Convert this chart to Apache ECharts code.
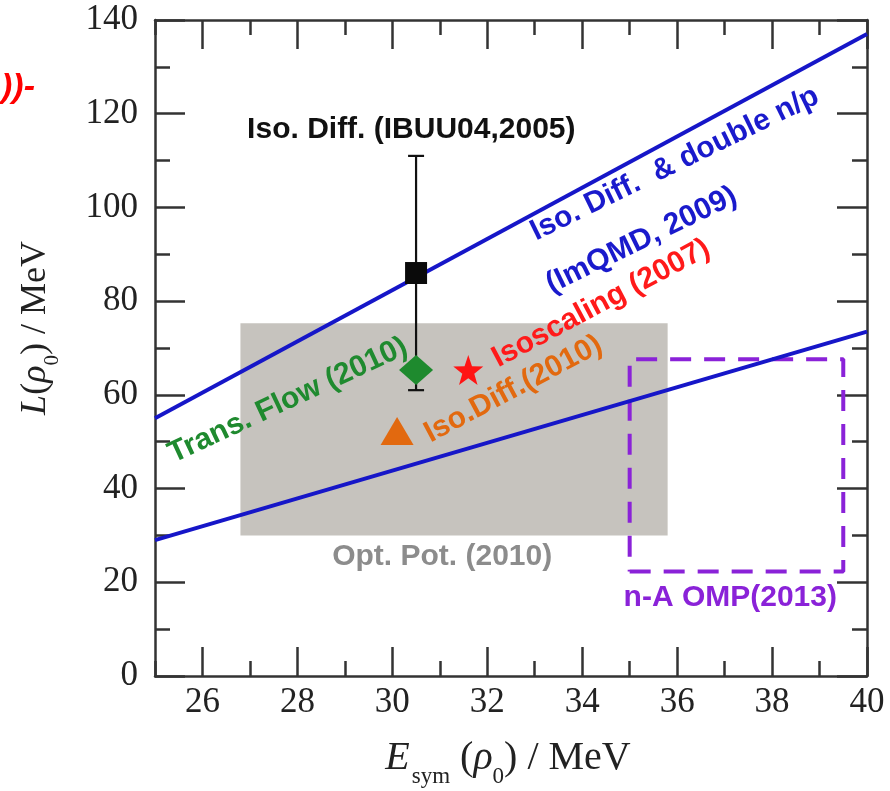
<!DOCTYPE html>
<html>
<head>
<meta charset="utf-8">
<script src="https://cdn.jsdelivr.net/npm/echarts@6/dist/echarts.min.js"></script>
<style>
  html, body { margin: 0; padding: 0; background: #ffffff; }
  #chart { width: 890px; height: 791px; }
</style>
</head>
<body>
<div id="chart"></div>
<script>
// ---- axis ranges and tick positions ----
const xMin = 25, xMax = 40;
const yMin = 0, yMax = 140;
const xMajorTicks = [26, 28, 30, 32, 34, 36, 38, 40];
const xMinorTicks = [25, 27, 29, 31, 33, 35, 37, 39];

// ---- ImQMD band edges (Esym, L) at both ends ----
const imqmdUpper = [[25, 55], [40, 137]];
const imqmdLower = [[25, 29], [40, 73.5]];

// ---- optical potential box ----
const optPotX = [26.8, 35.8];
const optPotY = [30, 75.3];

// ---- n-A optical model potential box ----
const ompX = [35, 39.5];
const ompY = [22.3, 67.6];

// ---- single results ----
const ibuuPoint = [30.5, 86];
const ibuuErr = [61, 111];
const transFlowPoint = [30.5, 65.3];
const isoscalingPoint = [31.6, 65.3];
const isoDiff2010Point = [30.1, 52.3];

// ---- annotation texts and their anchor points ----
const annoText = [
  'Iso. Diff. (IBUU04,2005)',
  'Iso. Diff.  & double n/p',
  '(ImQMD, 2009)',
  'Isoscaling (2007)',
  'Iso.Diff.(2010)',
  'Trans. Flow (2010)',
  'Opt. Pot. (2010)',
  'n-A OMP(2013)'
];
const annoX = [30.4, 35.95, 35.25, 34.4, 32.55, 27.8, 31.05, 37.12];
const annoY = [116.5, 109.3, 93.0, 79.5, 61.2, 58.8, 25.4, 16.6];

// drawing style for each annotation
const annoStyle = [
  { color: '#111111', angle: 0 },
  { color: '#1a1acc', angle: 26 },
  { color: '#1a1acc', angle: 26 },
  { color: '#ff1a1a', angle: 28 },
  { color: '#e2690f', angle: 28 },
  { color: '#1f8a2f', angle: 25 },
  { color: '#8c8c8c', angle: 0 },
  { color: '#8a22d8', angle: 0 }
];

const AXIS_COLOR = '#333333';
const BLUE = '#1616c8';
const SERIF = '"Liberation Serif", "Times New Roman", serif';
const SANS = '"Liberation Sans", Arial, sans-serif';

const chart = echarts.init(document.getElementById('chart'), null, { renderer: 'canvas' });

function xAxisDef(position, ticks, len, withLabels, withLine) {
  return {
    type: 'value', position: position, min: xMin, max: xMax,
    splitLine: { show: false },
    axisLine: { show: withLine, onZero: false, lineStyle: { color: AXIS_COLOR, width: 2.5 } },
    axisTick: { show: true, inside: true, length: len, customValues: ticks,
                lineStyle: { color: AXIS_COLOR, width: 2.5 } },
    axisLabel: withLabels ? {
      show: true, customValues: xMajorTicks, margin: 9,
      fontFamily: SERIF, fontSize: 35, color: '#222222'
    } : { show: false }
  };
}

function yAxisDef(position, withLabels) {
  return {
    type: 'value', position: position, min: yMin, max: yMax, interval: 20,
    splitLine: { show: false },
    axisLine: { show: true, onZero: false, lineStyle: { color: AXIS_COLOR, width: 2.5 } },
    axisTick: { show: true, inside: true, length: 30, lineStyle: { color: AXIS_COLOR, width: 2.5 } },
    minorTick: { show: true, splitNumber: 2, length: 15, lineStyle: { color: AXIS_COLOR, width: 2.5 } },
    axisLabel: withLabels ? {
      show: true, margin: 17, fontFamily: SERIF, fontSize: 35, color: '#222222'
    } : { show: false }
  };
}

function rectPath(xr, yr) {
  return [[xr[0], yr[0]], [xr[1], yr[0]], [xr[1], yr[1]], [xr[0], yr[1]], [xr[0], yr[0]]];
}

const option = {
  animation: false,
  backgroundColor: '#ffffff',
  grid: { left: 155, right: 23, top: 20, bottom: 115, containLabel: false },
  xAxis: [
    xAxisDef('bottom', xMajorTicks, 29, true, true),
    xAxisDef('bottom', xMinorTicks, 15, false, false),
    xAxisDef('top', xMajorTicks, 29, false, true),
    xAxisDef('top', xMinorTicks, 15, false, false)
  ],
  yAxis: [yAxisDef('left', true), yAxisDef('right', false)],
  graphic: [
    {
      type: 'text', x: 508, y: 788, z: 10,
      style: {
        text: '{e|E}{s|sym}{n| (}{r|ρ}{s|0}{n|) / MeV}',
        align: 'center', verticalAlign: 'bottom',
        rich: {
          e: { fontFamily: SERIF, fontStyle: 'italic', fontSize: 40, fill: '#222', verticalAlign: 'bottom', padding: [0, 2, 10, 0] },
          n: { fontFamily: SERIF, fontSize: 40, fill: '#222', verticalAlign: 'bottom', padding: [0, 0, 10, 0] },
          r: { fontFamily: SERIF, fontStyle: 'italic', fontSize: 40, fill: '#222', verticalAlign: 'bottom', padding: [0, 0, 10, 0] },
          s: { fontFamily: SERIF, fontSize: 23, fill: '#222', verticalAlign: 'bottom', padding: [0, 0, 0, 0] }
        }
      }
    },
    {
      type: 'text', x: 40, y: 328, rotation: Math.PI / 2, z: 10,
      style: {
        text: '{i|L}{n|(}{i|ρ}{s|0}{n|) / MeV}',
        align: 'center', verticalAlign: 'middle',
        rich: {
          i: { fontFamily: SERIF, fontStyle: 'italic', fontSize: 36, fill: '#222', verticalAlign: 'bottom', padding: [0, 0, 9, 0] },
          n: { fontFamily: SERIF, fontSize: 36, fill: '#222', verticalAlign: 'bottom', padding: [0, 0, 9, 0] },
          s: { fontFamily: SERIF, fontSize: 21, fill: '#222', verticalAlign: 'bottom' }
        }
      }
    },
    {
      // fragment of a red heading at the left edge
      type: 'text', x: 35, y: 88, z: 10,
      style: {
        text: 'ρ))-', align: 'right', verticalAlign: 'middle',
        font: 'italic bold 34px ' + SANS, fill: '#ff0000'
      }
    }
  ],
  series: [
    {
      name: 'Opt. Pot. (2010)', type: 'line', data: [], z: 1,
      markArea: {
        silent: true,
        itemStyle: { color: '#c6c3be', borderWidth: 0 },
        data: [[{ coord: [optPotX[0], optPotY[1]] }, { coord: [optPotX[1], optPotY[0]] }]]
      }
    },
    {
      name: 'n-A OMP(2013)', type: 'line', data: rectPath(ompX, ompY),
      symbol: 'none', z: 2, silent: true,
      lineStyle: { color: '#8a22d8', width: 4, type: [21, 13] }
    },
    {
      name: 'ImQMD upper', type: 'line', data: imqmdUpper, symbol: 'none', z: 3, silent: true,
      lineStyle: { color: BLUE, width: 4 }
    },
    {
      name: 'ImQMD lower', type: 'line', data: imqmdLower, symbol: 'none', z: 3, silent: true,
      lineStyle: { color: BLUE, width: 4 }
    },
    {
      name: 'IBUU04 error', type: 'custom', z: 4, silent: true,
      data: [[ibuuPoint[0], ibuuErr[0], ibuuErr[1]]],
      encode: { x: 0, y: [1, 2] },
      renderItem: function (params, api) {
        const lo = api.coord([api.value(0), api.value(1)]);
        const hi = api.coord([api.value(0), api.value(2)]);
        const cap = 8;
        const st = { stroke: '#111111', lineWidth: 2.2 };
        return {
          type: 'group',
          children: [
            { type: 'line', shape: { x1: lo[0], y1: lo[1], x2: hi[0], y2: hi[1] }, style: st },
            { type: 'line', shape: { x1: lo[0] - cap, y1: lo[1], x2: lo[0] + cap, y2: lo[1] }, style: st },
            { type: 'line', shape: { x1: hi[0] - cap, y1: hi[1], x2: hi[0] + cap, y2: hi[1] }, style: st }
          ]
        };
      }
    },
    {
      name: 'IBUU04', type: 'scatter', z: 5, silent: true,
      data: [ibuuPoint], symbol: 'rect', symbolSize: 22,
      itemStyle: { color: '#0a0a0a', opacity: 1 }
    },
    {
      name: 'Trans. Flow', type: 'scatter', z: 5, silent: true,
      data: [transFlowPoint], symbol: 'diamond', symbolSize: [34, 30],
      itemStyle: { color: '#1e8a2e', opacity: 1 }
    },
    {
      name: 'Isoscaling', type: 'scatter', z: 5, silent: true,
      data: [isoscalingPoint],
      symbol: 'path://M0,-10 L2.35,-3.24 L9.51,-3.09 L3.8,1.24 L5.88,8.09 L0,4 L-5.88,8.09 L-3.8,1.24 L-9.51,-3.09 L-2.35,-3.24 Z',
      symbolSize: 30,
      itemStyle: { color: '#ff1414', opacity: 1 }
    },
    {
      name: 'Iso.Diff. 2010', type: 'scatter', z: 5, silent: true,
      data: [isoDiff2010Point], symbol: 'triangle', symbolSize: [33, 28],
      itemStyle: { color: '#e2690f', opacity: 1 }
    },
    {
      name: 'annotations', type: 'custom', z: 6, silent: true,
      data: annoText.map(function (t, i) { return [annoX[i], annoY[i], i]; }),
      encode: { x: 0, y: 1 },
      renderItem: function (params, api) {
        const i = api.value(2);
        const p = api.coord([api.value(0), api.value(1)]);
        const s = annoStyle[i];
        return {
          type: 'text', x: p[0], y: p[1], rotation: s.angle * Math.PI / 180,
          style: {
            text: annoText[i], align: 'center', verticalAlign: 'middle',
            font: 'bold 30px ' + SANS, fill: s.color
          }
        };
      }
    }
  ]
};

chart.setOption(option);
</script>
</body>
</html>
